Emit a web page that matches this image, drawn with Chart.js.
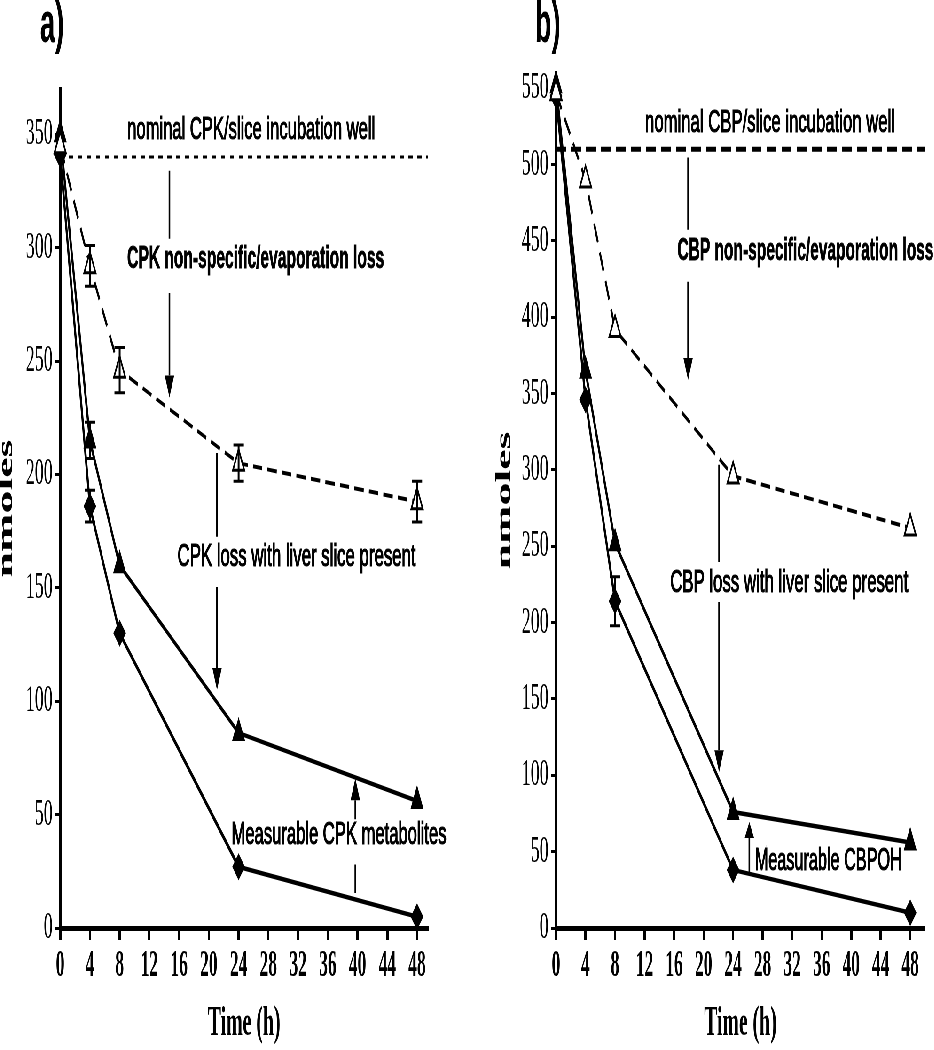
<!DOCTYPE html>
<html>
<head>
<meta charset="utf-8">
<script src="https://cdn.jsdelivr.net/npm/chart.js@4.4.1/dist/chart.umd.min.js"></script>
<style>
html, body { margin: 0; padding: 0; background: #fff; overflow: hidden; }
/* the original figure is squeezed sideways, so the whole page is drawn wide and then squeezed */
#wrap { width: 1988px; height: 1050px; display: flex; transform: scaleX(0.47); transform-origin: 0 0; }
#wrap > div { width: 994px; height: 1050px; position: relative; }
</style>
</head>
<body>
<div id="wrap">
  <div><canvas id="chartA" width="994" height="1050"></canvas></div>
  <div><canvas id="chartB" width="994" height="1050"></canvas></div>
</div>
<script>
const SQUISH = 0.47;

// sampling times (h)
const hours = [0, 4, 8, 24, 48];

// panel a) CPK
const cpkNoSlice = [345, 292, 246, 205, 188];
const cpkNoSliceErr = [0, 9, 10, 8, 9];
const cpkWithSlice = [350, 215, 160, 86, 56];
const cpkWithSliceErr = [0, 8, 0, 0, 0];
const cpkParent = [341, 186, 130, 27, 5];
const cpkParentErr = [0, 7, 0, 0, 0];
const cpkNominal = 340;

// panel b) CBP
const cbpNoSlice = [547, 490, 392, 296, 262];
const cbpWithSlice = [552, 365, 252, 76, 56];
const cbpParent = [545, 346, 214, 38, 10];
const cbpParentErr = [0, 0, 16, 0, 0];
const cbpNominal = 510;

const serif = '"Liberation Serif", "Times New Roman", serif';
const sans = '"Liberation Sans", Arial, sans-serif';

// error bars, arrows, notes and panel letter
const notesPlugin = {
    id: 'notes',
    afterDatasetsDraw(chart, args, opts) {
        const ctx = chart.ctx;
        const xs = chart.scales.x, ys = chart.scales.y;
        ctx.save();
        ctx.strokeStyle = '#000';
        ctx.fillStyle = '#000';

        // error bars
        chart.data.datasets.forEach(ds => {
            if (!ds.errors) return;
            ds.data.forEach((p, i) => {
                const e = ds.errors[i];
                if (!e) return;
                const px = xs.getPixelForValue(p.x);
                const top = ys.getPixelForValue(p.y + e);
                const bot = ys.getPixelForValue(p.y - e);
                ctx.lineWidth = 4;
                ctx.beginPath(); ctx.moveTo(px, top); ctx.lineTo(px, bot); ctx.stroke();
                ctx.lineWidth = 3;
                ctx.beginPath();
                ctx.moveTo(px - 11, top); ctx.lineTo(px + 11, top);
                ctx.moveTo(px - 11, bot); ctx.lineTo(px + 11, bot);
                ctx.stroke();
            });
        });

        // arrows
        (opts.arrows || []).forEach(a => {
            const px = xs.getPixelForValue(a.x);
            const y0 = ys.getPixelForValue(a.from);
            const y1 = ys.getPixelForValue(a.to);
            const dir = y1 > y0 ? 1 : -1;
            const head = a.head || 22;
            ctx.lineWidth = 3.5;
            ctx.beginPath();
            if (a.gap) {
                ctx.moveTo(px, y0); ctx.lineTo(px, ys.getPixelForValue(a.gap[0]));
                ctx.moveTo(px, ys.getPixelForValue(a.gap[1]));
            } else {
                ctx.moveTo(px, y0);
            }
            ctx.lineTo(px, y1 - dir * head);
            ctx.stroke();
            ctx.beginPath();
            ctx.moveTo(px, y1);
            ctx.lineTo(px - 10, y1 - dir * head);
            ctx.lineTo(px + 10, y1 - dir * head);
            ctx.closePath();
            ctx.fill();
        });

        // text notes, stretched to the width they have in the figure
        (opts.texts || []).forEach(n => {
            ctx.save();
            ctx.font = (n.bold ? 'bold ' : '') + '32px ' + sans;
            const k = (n.w / SQUISH) / ctx.measureText(n.text).width;
            ctx.translate(xs.getPixelForValue(n.x), ys.getPixelForValue(n.y));
            ctx.scale(k, 1);
            ctx.textAlign = 'center';
            ctx.textBaseline = 'middle';
            ctx.lineWidth = n.bold ? 0.8 : 1.2;
            ctx.fillText(n.text, 0, 0);
            ctx.strokeText(n.text, 0, 0);
            ctx.restore();
        });

        // panel letter
        if (opts.label) {
            ctx.font = 'bold 58px ' + sans;
            ctx.textAlign = 'left';
            ctx.textBaseline = 'alphabetic';
            ctx.fillText(opts.label.text, opts.label.x, opts.label.y);
        }
        ctx.restore();
    }
};

function points(values) {
    return values.map((v, i) => ({ x: hours[i], y: v }));
}

function makePanel(id, cfg) {
    const datasets = [
        {
            data: [{ x: 0, y: cfg.nominal }, { x: cfg.xMax, y: cfg.nominal }],
            borderColor: '#000', borderWidth: cfg.nominalWidth, borderDash: cfg.nominalDash,
            pointRadius: 0, clip: false
        },
        {
            data: points(cfg.noSlice), errors: cfg.noSliceErr,
            borderColor: '#000', borderWidth: 4, borderDash: [20, 11],
            pointStyle: 'triangle', pointRadius: 14, pointBorderWidth: 3,
            pointBackgroundColor: '#fff', pointBorderColor: '#000', clip: false
        },
        {
            data: points(cfg.withSlice), errors: cfg.withSliceErr,
            borderColor: '#000', borderWidth: 4.5,
            pointStyle: 'triangle', pointRadius: 14, pointBorderWidth: 2,
            pointBackgroundColor: '#000', pointBorderColor: '#000', clip: false
        },
        {
            data: points(cfg.parent), errors: cfg.parentErr,
            borderColor: '#000', borderWidth: 4.5,
            pointStyle: 'rectRot', pointRadius: 12, pointBorderWidth: 2,
            pointBackgroundColor: '#000', pointBorderColor: '#000', clip: false
        }
    ];

    return new Chart(document.getElementById(id), {
        type: 'line',
        data: { datasets: datasets },
        options: {
            responsive: false,
            animation: false,
            events: [],
            layout: { padding: { left: cfg.padL, right: cfg.padR, top: cfg.padT, bottom: 0 } },
            plugins: {
                legend: { display: false },
                tooltip: { enabled: false },
                notes: { arrows: cfg.arrows, texts: cfg.texts, label: cfg.label }
            },
            scales: {
                x: {
                    type: 'linear', min: 0, max: cfg.xMax,
                    afterFit: s => { s.height = 122; },
                    ticks: {
                        stepSize: 4, includeBounds: false, color: '#000', padding: 4,
                        font: { family: serif, size: 37, weight: 'bold' }
                    },
                    grid: { drawOnChartArea: false, color: '#000', tickLength: 12, tickWidth: 5 },
                    border: { color: '#000', width: 5 },
                    title: {
                        display: true, text: 'Time (h)', color: '#000',
                        font: { family: serif, size: 42, weight: 'bold' },
                        padding: { top: 0, bottom: 1 }
                    }
                },
                y: {
                    min: 0, max: cfg.yMax,
                    afterFit: s => { s.width = cfg.yWidth; },
                    ticks: {
                        stepSize: 50, includeBounds: false, color: '#000', padding: 6,
                        font: { family: serif, size: 38 }
                    },
                    grid: { drawOnChartArea: false, color: '#000', tickLength: 10, tickWidth: 3 },
                    border: { color: '#000', width: 5 },
                    title: {
                        display: true, text: 'nmoles', color: '#000',
                        font: { family: serif, size: 46, weight: 'bold', lineHeight: 0.6 },
                        padding: 0
                    }
                }
            }
        },
        plugins: [notesPlugin]
    });
}

makePanel('chartA', {
    yMax: 370, xMax: 49.5, padL: 0, padR: 83, padT: 89, yWidth: 128,
    nominal: cpkNominal, nominalDash: [9, 10], nominalWidth: 3,
    noSlice: cpkNoSlice, noSliceErr: cpkNoSliceErr,
    withSlice: cpkWithSlice, withSliceErr: cpkWithSliceErr,
    parent: cpkParent, parentErr: cpkParentErr,
    label: { text: 'a)', x: 85, y: 42 },
    arrows: [
        { x: 14.7, from: 334, to: 234, gap: [304, 280] },
        { x: 21.1, from: 209.5, to: 105, gap: [172.5, 150.4] },
        { x: 39.7, from: 15.4, to: 66, gap: [28, 48] }
    ],
    texts: [
        { text: 'nominal CPK/slice incubation well', x: 25.7, y: 352, w: 248 },
        { text: 'CPK non-specific/evaporation loss', x: 26.3, y: 295, w: 257, bold: true },
        { text: 'CPK loss with liver slice present', x: 31.8, y: 163.6, w: 238 },
        { text: 'Measurable CPK metabolites', x: 37.5, y: 41, w: 215 }
    ]
});

makePanel('chartB', {
    yMax: 560, xMax: 50, padL: 66, padR: 20, padT: 73, yWidth: 123,
    nominal: cbpNominal, nominalDash: [21, 11], nominalWidth: 5,
    noSlice: cbpNoSlice, noSliceErr: null,
    withSlice: cbpWithSlice, withSliceErr: null,
    parent: cbpParent, parentErr: cbpParentErr,
    label: { text: 'b)', x: 144, y: 42 },
    arrows: [
        { x: 17.9, from: 504.6, to: 359, gap: [457.4, 423.3] },
        { x: 22.1, from: 303.4, to: 102, gap: [239.8, 213.6] },
        { x: 26.2, from: 36.7, to: 69.5, head: 16 }
    ],
    texts: [
        { text: 'nominal CBP/slice incubation well', x: 29.0, y: 527, w: 250 },
        { text: 'CBP non-specific/evaporation loss', x: 33.8, y: 443.6, w: 256, bold: true },
        { text: 'CBP loss with liver slice present', x: 31.6, y: 226, w: 238 },
        { text: 'Measurable CBPOH', x: 36.9, y: 44, w: 147 }
    ]
});
</script>
</body>
</html>
